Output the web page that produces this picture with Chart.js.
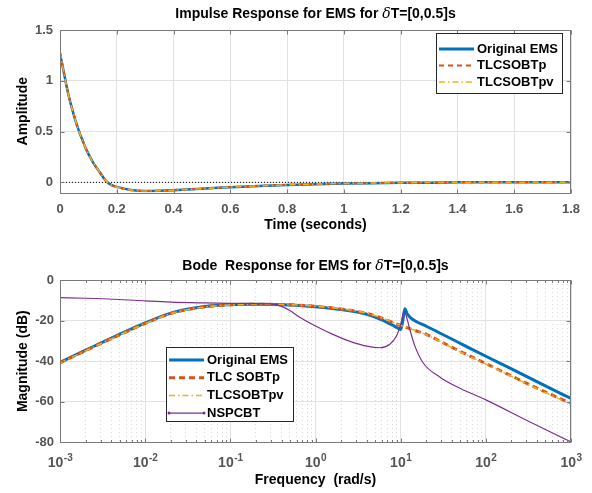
<!DOCTYPE html>
<html>
<head>
<meta charset="utf-8">
<script src="https://cdn.jsdelivr.net/npm/chart.js@4.4.1/dist/chart.umd.min.js"></script>
<style>
  html, body { margin: 0; padding: 0; background: #fff; }
  canvas { position: absolute; left: 0; }
  #impulseChart { top: 0; }
  #bodeChart { top: 246px; }
</style>
</head>
<body>
<canvas id="impulseChart" width="592" height="246"></canvas>
<canvas id="bodeChart" width="592" height="247"></canvas>
<script>
// impulse response
var time = [0, 0.01, 0.02, 0.03, 0.04, 0.05, 0.06, 0.07, 0.08, 0.09, 0.10, 0.12, 0.14, 0.16, 0.18, 0.20, 0.25, 0.30, 0.35, 0.40, 0.50, 0.60, 0.70, 0.80, 0.90, 1.00, 1.10, 1.20, 1.30, 1.40, 1.50, 1.60, 1.70, 1.80];
var impOrig = [1.27, 1.13, 0.99, 0.86, 0.75, 0.65, 0.56, 0.48, 0.41, 0.34, 0.28, 0.18, 0.10, 0.02, -0.025, -0.045, -0.075, -0.084, -0.082, -0.077, -0.063, -0.048, -0.036, -0.026, -0.018, -0.012, -0.008, -0.005, -0.003, 0.002, 0.002, 0.001, 0.001, 0];
var impTlcP = [1.28, 1.14, 0.99, 0.86, 0.75, 0.65, 0.56, 0.48, 0.41, 0.34, 0.28, 0.18, 0.10, 0.02, -0.026, -0.047, -0.076, -0.085, -0.082, -0.076, -0.062, -0.047, -0.035, -0.025, -0.017, -0.011, -0.007, -0.004, -0.002, 0.001, 0.001, 0.001, 0, 0];
var impTlcPv = [1.28, 1.13, 0.99, 0.86, 0.75, 0.65, 0.56, 0.48, 0.41, 0.34, 0.28, 0.18, 0.10, 0.02, -0.026, -0.046, -0.076, -0.085, -0.083, -0.077, -0.062, -0.047, -0.035, -0.025, -0.017, -0.011, -0.007, -0.004, -0.002, 0.001, 0.001, 0.001, 0, 0];
var zeroLine = [0, 0];
var zeroTime = [0, 1.8];
var timeTicks = [0, 0.2, 0.4, 0.6, 0.8, 1, 1.2, 1.4, 1.6, 1.8];
var timeTickLabels = ['0', '0.2', '0.4', '0.6', '0.8', '1', '1.2', '1.4', '1.6', '1.8'];
var ampTicks = [0, 0.5, 1, 1.5];
var ampTickLabels = ['0', '0.5', '1', '1.5'];

// bode magnitude (dB)
var freq = [0.001, 0.002, 0.005, 0.01, 0.02, 0.05, 0.1, 0.2, 0.5, 1, 2, 4, 6, 8, 9, 10, 10.5, 11.2, 12, 13, 15, 20, 30, 50, 100, 200, 500, 1000];
var magOrig = [-40.6, -34.6, -26.8, -21.2, -16.3, -13.1, -12.2, -12.0, -12.3, -13.2, -14.6, -16.9, -19.6, -22.2, -23.4, -24.4, -21.0, -14.2, -16.8, -18.5, -20.3, -22.8, -26.5, -31.2, -37.6, -43.8, -52.2, -58.4];
var magTlcP = [-40.8, -34.8, -27.0, -21.4, -16.5, -13.2, -12.2, -12.0, -12.2, -13.0, -14.3, -16.5, -18.8, -20.9, -21.7, -22.4, -22.8, -23.2, -23.6, -24.1, -25.0, -26.8, -30.5, -35.2, -41.2, -47.3, -55.2, -60.8];
var magTlcPv = [-40.9, -34.9, -27.1, -21.5, -16.6, -13.3, -12.3, -12.0, -12.2, -12.9, -14.2, -16.4, -18.7, -20.8, -21.6, -22.3, -22.7, -23.1, -23.5, -24.0, -25.0, -26.9, -30.6, -35.4, -41.4, -47.5, -55.5, -61.2];
var freqN = [0.001, 0.002, 0.005, 0.01, 0.02, 0.05, 0.1, 0.2, 0.3, 0.4, 0.5, 0.66, 1, 1.6, 2.5, 4, 5.7, 7.4, 8.9, 10, 11, 11.4, 12.8, 14.7, 18.4, 29, 45, 100, 300, 1000];
var magN = [-8.7, -9.0, -9.6, -10.3, -10.9, -11.3, -11.5, -11.6, -11.8, -13.0, -15.0, -18.5, -22.7, -26.8, -30.1, -32.6, -33.4, -31.8, -27.7, -22.0, -15.5, -16.5, -24.3, -32.6, -40.9, -47.9, -52.5, -59.1, -69.1, -79.8];
var freqDecades = [0.001, 0.01, 0.1, 1, 10, 100, 1000];
var freqTickExps = ['-3', '-2', '-1', '0', '1', '2', '3'];
var magTicks = [-80, -60, -40, -20, 0];
var magTickLabels = ['-80', '-60', '-40', '-20', '0'];

var FONT = '"Liberation Sans", Arial, Helvetica, sans-serif';
var BLUE = '#0072BD', ORANGE = '#D95319', YELLOW = '#EDB120', PURPLE = '#7E2F8E';
var TICK_COLOR = '#555';

function pts(xs, ys) {
  return xs.map(function (x, i) { return { x: x, y: ys[i] }; });
}

function isDecade(v) {
  var l = Math.log10(v);
  return Math.abs(l - Math.round(l)) < 1e-6;
}

// box, inward ticks, title with italic delta, power-of-ten labels and a legend inside the axes
var panelDecor = {
  id: 'panelDecor',
  afterDraw: function (chart, args, opts) {
    var ctx = chart.ctx, a = chart.chartArea;
    var L0 = Math.round(a.left) + 0.5, R0 = Math.round(a.right) - 0.5;
    var T0 = Math.round(a.top) + 0.5, B0 = Math.round(a.bottom) + 0.5;
    ctx.save();
    ctx.strokeStyle = '#7a7a7a';
    ctx.lineWidth = 1;
    ctx.setLineDash([]);
    ctx.strokeRect(L0, T0, R0 - L0, B0 - T0);

    // inward tick marks
    ctx.beginPath();
    chart.scales.x.ticks.forEach(function (t) {
      var px = Math.round(chart.scales.x.getPixelForValue(t.value)) + 0.5;
      var len = opts.logX && !isDecade(t.value) ? 2.5 : 4;
      ctx.moveTo(px, B0); ctx.lineTo(px, B0 - len);
      ctx.moveTo(px, T0); ctx.lineTo(px, T0 + len);
    });
    chart.scales.y.ticks.forEach(function (t) {
      var py = Math.round(chart.scales.y.getPixelForValue(t.value)) + 0.5;
      ctx.moveTo(L0, py); ctx.lineTo(L0 + 4, py);
      ctx.moveTo(R0, py); ctx.lineTo(R0 - 4, py);
    });
    ctx.stroke();

    // power-of-ten tick labels
    if (opts.logX) {
      ctx.fillStyle = TICK_COLOR;
      ctx.textBaseline = 'middle';
      ctx.textAlign = 'left';
      freqDecades.forEach(function (v, i) {
        var px = chart.scales.x.getPixelForValue(v);
        ctx.font = 'bold 14px ' + FONT;
        var wb = ctx.measureText('10').width;
        ctx.font = 'bold 10px ' + FONT;
        var we = ctx.measureText(freqTickExps[i]).width;
        var x0 = px - (wb + we) / 2;
        ctx.font = 'bold 14px ' + FONT;
        ctx.fillText('10', x0, opts.logLabelY);
        ctx.font = 'bold 10px ' + FONT;
        ctx.fillText(freqTickExps[i], x0 + wb + 0.5, opts.logLabelY - 5.5);
      });
    }

    // title
    var parts = opts.title;
    var total = 0;
    parts.forEach(function (p) { ctx.font = p.font; total += ctx.measureText(p.text).width; });
    var x = (a.left + a.right) / 2 - total / 2;
    ctx.fillStyle = '#000';
    ctx.textBaseline = 'middle';
    ctx.textAlign = 'left';
    parts.forEach(function (p) {
      ctx.font = p.font;
      ctx.fillText(p.text, x, opts.titleY);
      x += ctx.measureText(p.text).width;
    });

    // legend
    var L = opts.legend;
    ctx.fillStyle = '#fff';
    ctx.fillRect(L.x, L.y, L.w, L.h);
    ctx.strokeStyle = '#262626';
    ctx.strokeRect(L.x + 0.5, L.y + 0.5, L.w, L.h);
    var items = chart.data.datasets.filter(function (d) { return d.label; });
    items.forEach(function (d, i) {
      var y = L.y + L.first + i * L.step;
      ctx.strokeStyle = d.borderColor;
      ctx.lineWidth = d.legendWidth || d.borderWidth;
      ctx.setLineDash(d.borderDash || []);
      ctx.beginPath();
      ctx.moveTo(L.x + L.x0, y);
      ctx.lineTo(L.x + L.x1, y);
      ctx.stroke();
      if (d.legendDots) {
        ctx.fillStyle = d.borderColor;
        [L.x + L.x0, L.x + L.x1].forEach(function (px) {
          ctx.beginPath(); ctx.arc(px, y, 1.5, 0, Math.PI * 2); ctx.fill();
        });
      }
      ctx.setLineDash([]);
      ctx.fillStyle = '#000';
      ctx.font = 'bold 13px ' + FONT;
      ctx.fillText(d.label, L.x + L.tx, y);
    });
    ctx.restore();
  }
};

var tickFont = { family: FONT, size: 13, weight: 'bold' };
var axisTitleFont = { family: FONT, size: 14, weight: 'bold' };
var titleBold = 'bold 14px ' + FONT;
var titleDelta = 'italic 14px "DejaVu Serif", serif';

new Chart(document.getElementById('impulseChart'), {
  type: 'line',
  plugins: [panelDecor],
  data: {
    datasets: [
      { data: pts(zeroTime, zeroLine), borderColor: '#000', borderWidth: 1, borderDash: [1, 2], pointRadius: 0, order: 9 },
      { label: 'Original EMS', data: pts(time, impOrig), borderColor: BLUE, borderWidth: 2.5, legendWidth: 3, pointRadius: 0, cubicInterpolationMode: 'monotone', order: 3 },
      { label: 'TLCSOBTp', data: pts(time, impTlcP), borderColor: ORANGE, borderWidth: 2, borderDash: [5, 4], pointRadius: 0, cubicInterpolationMode: 'monotone', order: 2 },
      { label: 'TLCSOBTpv', data: pts(time, impTlcPv), borderColor: YELLOW, borderWidth: 1.5, borderDash: [6, 3, 1.5, 3], pointRadius: 0, cubicInterpolationMode: 'monotone', order: 1 }
    ]
  },
  options: {
    responsive: false,
    animation: false,
    layout: { padding: { top: 30, right: 21, left: 0, bottom: 0 } },
    plugins: {
      legend: { display: false },
      tooltip: { enabled: false },
      panelDecor: {
        titleY: 14,
        title: [
          { text: 'Impulse Response for EMS for ', font: titleBold },
          { text: '\u03B4', font: titleDelta },
          { text: 'T=[0,0.5]s', font: titleBold }
        ],
        legend: { x: 436, y: 33, w: 126, h: 60, first: 16, step: 16.5, x0: 3, x1: 38, tx: 41 }
      }
    },
    scales: {
      x: {
        type: 'linear', min: 0, max: 1.8,
        afterFit: function (s) { s.height = 53.5; },
        afterBuildTicks: function (s) { s.ticks = timeTicks.map(function (v) { return { value: v }; }); },
        ticks: {
          autoSkip: false, maxRotation: 0, padding: 9, color: TICK_COLOR, font: tickFont,
          callback: function (v, i) { return timeTickLabels[i]; }
        },
        grid: { color: '#e2e2e2', drawTicks: false },
        border: { display: false },
        title: { display: true, text: 'Time (seconds)', color: '#000', font: axisTitleFont, padding: { top: 0, bottom: 12.5 } }
      },
      y: {
        type: 'linear', min: -0.1, max: 1.5,
        afterFit: function (s) { s.width = 60; },
        afterBuildTicks: function (s) { s.ticks = ampTicks.map(function (v) { return { value: v }; }); },
        ticks: {
          autoSkip: false, padding: 7, color: TICK_COLOR, font: tickFont,
          callback: function (v, i) { return ampTickLabels[i]; }
        },
        grid: { color: '#e2e2e2', drawTicks: false },
        border: { display: false },
        title: { display: true, text: 'Amplitude', color: '#000', font: axisTitleFont, padding: { top: 14.5, bottom: 0 } }
      }
    }
  }
});

new Chart(document.getElementById('bodeChart'), {
  type: 'line',
  plugins: [panelDecor],
  data: {
    datasets: [
      { label: 'Original EMS', data: pts(freq, magOrig), borderColor: BLUE, borderWidth: 3, pointRadius: 0, cubicInterpolationMode: 'monotone', order: 4 },
      { label: 'TLC SOBTp', data: pts(freq, magTlcP), borderColor: ORANGE, borderWidth: 3, borderDash: [6, 4], pointRadius: 0, cubicInterpolationMode: 'monotone', order: 3 },
      { label: 'TLCSOBTpv', data: pts(freq, magTlcPv), borderColor: YELLOW, borderWidth: 1.5, borderDash: [6, 3, 1.5, 3], pointRadius: 0, cubicInterpolationMode: 'monotone', order: 2 },
      { label: 'NSPCBT', data: pts(freqN, magN), borderColor: PURPLE, borderWidth: 1.2, legendDots: true, pointRadius: 0, cubicInterpolationMode: 'monotone', order: 1 }
    ]
  },
  options: {
    responsive: false,
    animation: false,
    layout: { padding: { top: 34, right: 21, left: 0, bottom: 0 } },
    plugins: {
      legend: { display: false },
      tooltip: { enabled: false },
      panelDecor: {
        titleY: 20,
        logX: true,
        logLabelY: 217.5,
        title: [
          { text: 'Bode  Response for EMS for ', font: titleBold },
          { text: '\u03B4', font: titleDelta },
          { text: 'T=[0,0.5]s', font: titleBold }
        ],
        legend: { x: 166, y: 101, w: 127, h: 74, first: 13, step: 17.7, x0: 3, x1: 38, tx: 41 }
      }
    },
    scales: {
      x: {
        type: 'logarithmic', min: 0.001, max: 1000,
        afterFit: function (s) { s.height = 50.7; },
        afterBuildTicks: function (s) {
          var t = [];
          for (var d = 0; d < freqDecades.length - 1; d++) {
            for (var k = 1; k <= 9; k++) t.push({ value: k * freqDecades[d] });
          }
          t.push({ value: freqDecades[freqDecades.length - 1] });
          s.ticks = t;
        },
        ticks: {
          autoSkip: false, maxRotation: 0, padding: 11, color: TICK_COLOR,
          font: { family: FONT, size: 14, weight: 'bold' },
          callback: function () { return ''; }
        },
        grid: {
          color: function (c) { return c.tick && isDecade(c.tick.value) ? '#e2e2e2' : '#d9d9d9'; },
          drawTicks: false
        },
        border: {
          display: false,
          dash: function (c) { return c.tick && !isDecade(c.tick.value) ? [1, 3] : []; }
        },
        title: { display: true, text: 'Frequency  (rad/s)', color: '#000', font: axisTitleFont, padding: { top: 0, bottom: 4.5 } }
      },
      y: {
        type: 'linear', min: -80, max: 0,
        afterFit: function (s) { s.width = 60; },
        afterBuildTicks: function (s) { s.ticks = magTicks.map(function (v) { return { value: v }; }); },
        ticks: {
          autoSkip: false, padding: 6, color: TICK_COLOR, font: tickFont,
          callback: function (v, i) { return magTickLabels[i]; }
        },
        grid: { color: '#e2e2e2', drawTicks: false },
        border: { display: false },
        title: { display: true, text: 'Magnitude (dB)', color: '#000', font: axisTitleFont, padding: { top: 14.5, bottom: 0 } }
      }
    }
  }
});
</script>
</body>
</html>
